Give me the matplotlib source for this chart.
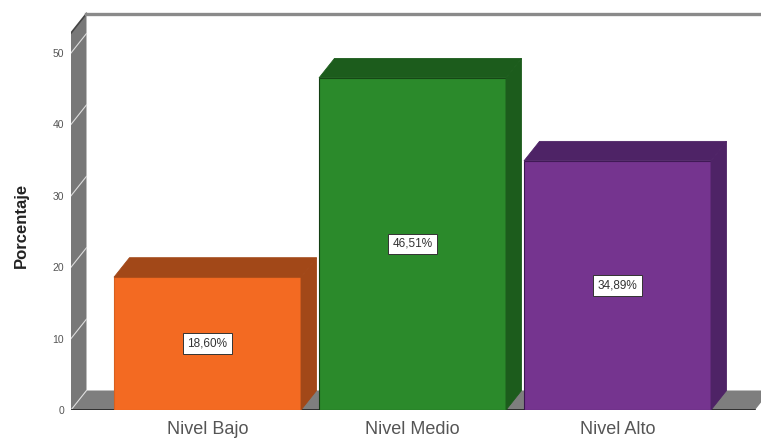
import matplotlib
matplotlib.use("Agg")
import matplotlib.pyplot as plt
from matplotlib.patches import Polygon

categories = ["Nivel Bajo", "Nivel Medio", "Nivel Alto"]
values = [18.60, 46.51, 34.89]
labels = ["18,60%", "46,51%", "34,89%"]
front_colors = ["#F36A22", "#2B8A2B", "#75348F"]
dark_colors = ["#A24818", "#1C5C1C", "#4E2366"]
edge_colors = ["#D8601E", "#123F12", "#3A1650"]
yticks = [0, 10, 20, 30, 40, 50]
ytop = 52.8

W, H = 761, 438
PX_X = 205.0   # px per category
PX_Y = 7.14    # px per percent
X0 = 207.5     # px of first category
LEFT, BASE = 71, 410

plt.rcParams["font.family"] = ["Liberation Sans", "DejaVu Sans"]
fig = plt.figure(figsize=(W / 100, H / 100), dpi=100, facecolor="white")
ax = fig.add_axes([LEFT / W, (H - BASE) / H, (W - LEFT) / W, BASE / H])
ax.set_xlim((LEFT - X0) / PX_X, (W - X0) / PX_X)
ax.set_ylim(0, BASE / PX_Y)
for s in ax.spines.values():
    s.set_visible(False)

dx, dy = 15.5 / PX_X, 19.5 / PX_Y
xl = ax.get_xlim()[0]
xr = (755 - X0) / PX_X

# walls
gray = "#787878"
ax.add_patch(Polygon([(xl, 0), (xl + dx, dy), (xl + dx, ytop + dy), (xl, ytop)],
                     fc=gray, ec="none", zorder=1))
ax.add_patch(Polygon([(xl, 0), (xl + dx, dy), (xr + dx, dy), (xr, 0)],
                     fc="#7E7E7E", ec="none", zorder=1))
ax.plot([xl, xl + dx], [ytop, ytop + dy], color="#444444", lw=1.2, zorder=2)
ax.plot([xl + dx, ax.get_xlim()[1]], [ytop + dy, ytop + dy], color="#8A8A8A", lw=2.4, zorder=2)
for t in yticks:
    ax.plot([xl, xl + dx], [t, t + dy], color="#DDDDDD", lw=0.8, zorder=2)
ax.plot([xl, xr], [0, 0], color="#222222", lw=1.2, zorder=2)

# bars
bw = 187 / PX_X
xs = list(range(len(values)))
ax.bar(xs, values, width=bw, color=front_colors, edgecolor=edge_colors, linewidth=0.8, zorder=3)
for x, v, d, e, lab in zip(xs, values, dark_colors, edge_colors, labels):
    l, r = x - bw / 2, x + bw / 2
    ax.add_patch(Polygon([(l, v), (l + dx, v + dy), (r + dx, v + dy), (r, v)],
                         fc=d, ec=d, lw=0.6, zorder=3))
    ax.add_patch(Polygon([(r, 0), (r + dx, dy), (r + dx, v + dy), (r, v)],
                         fc=d, ec=d, lw=0.6, zorder=3))
    ax.text(x, v / 2, lab, ha="center", va="center", fontsize=8.5, color="#333333", zorder=5,
            bbox=dict(boxstyle="square,pad=0.35", fc="white", ec="#333333", lw=0.7))

ax.set_xticks(xs, categories)
ax.set_yticks(yticks, [str(t) for t in yticks])
ax.tick_params(axis="x", length=0, pad=8, labelsize=13, labelcolor="#555555")
ax.tick_params(axis="y", length=0, pad=5, labelsize=7.5, labelcolor="#555555")
ax.set_ylabel("Porcentaje", fontsize=12, fontweight="bold", color="#222222")
ax.yaxis.set_label_coords(-0.061, 0.45)
ax.patch.set_alpha(0)
fig.savefig("out.png", dpi=100)
